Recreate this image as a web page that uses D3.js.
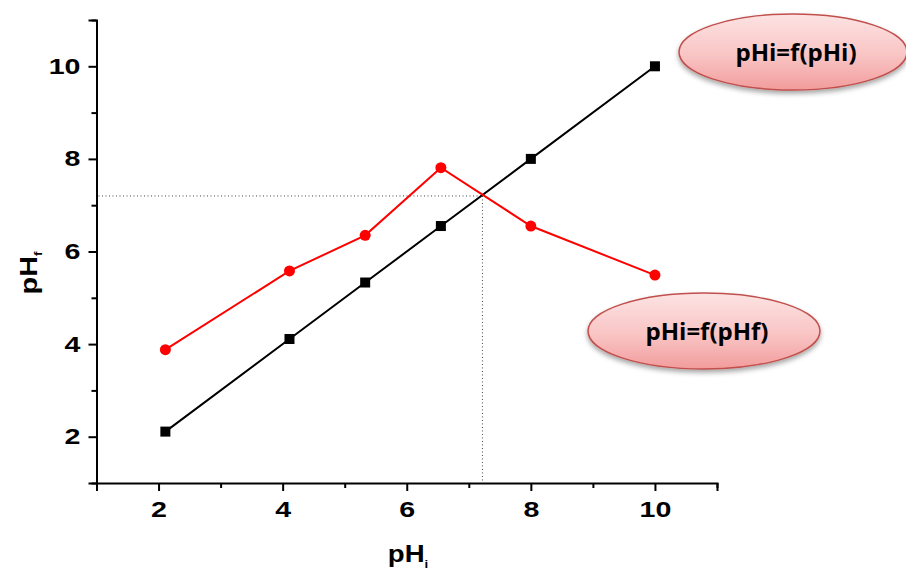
<!DOCTYPE html>
<html>
<head>
<meta charset="utf-8">
<script src="https://cdn.jsdelivr.net/npm/d3@7"></script>
<style>
  html, body { margin: 0; padding: 0; background: #fff; }
  svg { display: block; }
</style>
</head>
<body>
<svg id="chart" width="906" height="574"></svg>
<script>
// pH values: identity series (initial vs initial) and measured final pH
const phInitial = [2.11, 4.11, 5.33, 6.55, 8.0, 10.0];
const phIdentity = [2.11, 4.11, 5.33, 6.55, 8.0, 10.0];
const phFinal = [3.88, 5.58, 6.35, 7.81, 6.55, 5.49];
const crossing = [7.22, 7.2];
const xTicks = [2, 4, 6, 8, 10];
const yTicks = [2, 4, 6, 8, 10];
const minorTicks = [1, 3, 5, 7, 9, 11];
const bubbleLabels = ["pHi=f(pHi)", "pHi=f(pHf)"];

const svg = d3.select("#chart");
const x = d3.scaleLinear().domain([1, 11]).range([96.5, 717]);
const y = d3.scaleLinear().domain([1, 11]).range([483, 20]);

// the labels use a slightly widened bold sans face
const stretch = 1.3;
const fontTick = "'Liberation Sans', Arial, sans-serif";

const defs = svg.append("defs");
const grad = defs.append("linearGradient").attr("id", "bubbleFill")
  .attr("x1", 0).attr("y1", 0).attr("x2", 0).attr("y2", 1);
grad.append("stop").attr("offset", "0%").attr("stop-color", "#fde3e3");
grad.append("stop").attr("offset", "55%").attr("stop-color", "#f9c4c4");
grad.append("stop").attr("offset", "100%").attr("stop-color", "#f29c9c");
const shadow = defs.append("filter").attr("id", "bubbleShadow")
  .attr("x", "-20%").attr("y", "-20%").attr("width", "140%").attr("height", "160%");
shadow.append("feDropShadow").attr("dx", 0).attr("dy", 3).attr("stdDeviation", 2.5)
  .attr("flood-color", "#000").attr("flood-opacity", 0.35);

// axes
const xAxis = svg.append("g").attr("transform", `translate(0,${y(1)})`);
xAxis.call(d3.axisBottom(x).tickValues(xTicks).tickSize(8).tickPadding(10).tickFormat(d3.format("d")));
const xMinor = svg.append("g").attr("transform", `translate(0,${y(1)})`);
xMinor.call(d3.axisBottom(x).tickValues(minorTicks).tickSize(5).tickFormat(""));

const yAxis = svg.append("g").attr("transform", `translate(${x(1)},0)`);
yAxis.call(d3.axisLeft(y).tickValues(yTicks).tickSize(8).tickPadding(8).tickFormat(d3.format("d")));
const yMinor = svg.append("g").attr("transform", `translate(${x(1)},0)`);
yMinor.call(d3.axisLeft(y).tickValues(minorTicks).tickSize(5).tickFormat(""));

svg.selectAll(".domain").attr("stroke", "#000").attr("stroke-width", 2);
svg.selectAll(".tick line").attr("stroke", "#000").attr("stroke-width", 2);
svg.selectAll(".tick text").attr("font-family", fontTick).attr("font-weight", "bold")
  .attr("font-size", 22).attr("fill", "#000");
xAxis.selectAll(".tick text").attr("transform", `scale(${stretch},1)`);
yAxis.selectAll(".tick text").attr("x", -16 / stretch).attr("transform", `scale(${stretch},1)`);
xMinor.select(".domain").remove();
yMinor.select(".domain").remove();

// dotted guide lines to the crossing point
const guide = svg.append("g").attr("stroke", "#444").attr("stroke-width", 1)
  .attr("stroke-dasharray", "1,2.5").attr("fill", "none");
guide.append("line").attr("x1", x(1) + 2).attr("x2", x(crossing[0]))
  .attr("y1", y(crossing[1])).attr("y2", y(crossing[1]));
guide.append("line").attr("x1", x(crossing[0])).attr("x2", x(crossing[0]))
  .attr("y1", y(crossing[1])).attr("y2", y(1) - 2);

const line = d3.line().x(d => x(d[0])).y(d => y(d[1]));
const black = d3.zip(phInitial, phIdentity);
const red = d3.zip(phInitial, phFinal);

svg.append("path").datum(black).attr("d", line).attr("fill", "none")
  .attr("stroke", "#000").attr("stroke-width", 2);
svg.append("path").datum(red).attr("d", line).attr("fill", "none")
  .attr("stroke", "#ff0000").attr("stroke-width", 2);

svg.selectAll(".sq").data(black).enter().append("rect")
  .attr("x", d => x(d[0]) - 5).attr("y", d => y(d[1]) - 5)
  .attr("width", 10).attr("height", 10).attr("fill", "#000");
svg.selectAll(".dot").data(red).enter().append("circle")
  .attr("cx", d => x(d[0])).attr("cy", d => y(d[1])).attr("r", 5.5).attr("fill", "#ff0000");

// axis titles
const yTitle = svg.append("text").attr("transform", "translate(37,273) rotate(-90) scale(1.2,1)")
  .attr("text-anchor", "middle").attr("font-family", fontTick).attr("font-weight", "bold")
  .attr("font-size", 24).attr("fill", "#000");
yTitle.append("tspan").text("pH");
yTitle.append("tspan").attr("font-size", 11).attr("dy", 5).text("f");

const xTitle = svg.append("text").attr("transform", "translate(408,562) scale(1.2,1)")
  .attr("text-anchor", "middle").attr("font-family", fontTick).attr("font-weight", "bold")
  .attr("font-size", 23).attr("fill", "#000");
xTitle.append("tspan").text("pH");
xTitle.append("tspan").attr("font-size", 11).attr("dy", 6).text("i");

// callout bubbles
const bubbles = [
  { cx: 793, cy: 52, rx: 114, ry: 38, label: bubbleLabels[0] },
  { cx: 704, cy: 331, rx: 116, ry: 38, label: bubbleLabels[1] }
];
const bg = svg.selectAll(".bubble").data(bubbles).enter().append("g");
bg.append("ellipse").attr("cx", d => d.cx).attr("cy", d => d.cy)
  .attr("rx", d => d.rx).attr("ry", d => d.ry)
  .attr("fill", "url(#bubbleFill)").attr("stroke", "#c0504d").attr("stroke-width", 1.5)
  .attr("filter", "url(#bubbleShadow)");
bg.append("text").attr("x", d => d.cx + 3).attr("y", d => d.cy + 9)
  .attr("text-anchor", "middle").attr("font-family", "'Open Sans', 'Noto Sans', sans-serif")
  .attr("font-weight", "bold").attr("font-size", 24).attr("fill", "#000")
  .text(d => d.label);
</script>
</body>
</html>
